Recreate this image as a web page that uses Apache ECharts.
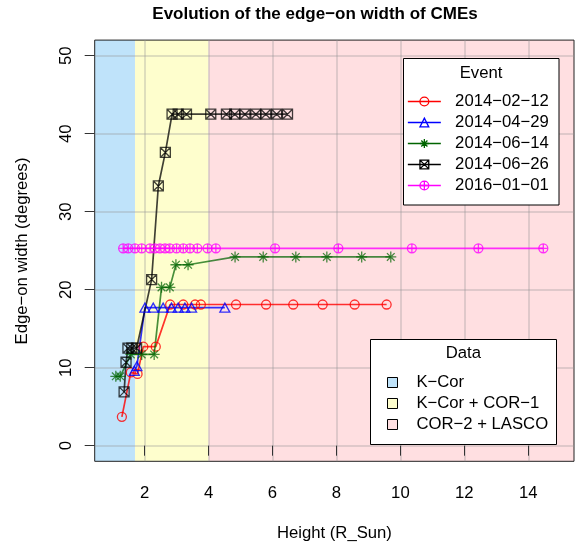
<!DOCTYPE html>
<html>
<head>
<meta charset="utf-8">
<script src="https://cdn.jsdelivr.net/npm/echarts@6/dist/echarts.min.js"></script>
<style>
html, body { margin: 0; padding: 0; background: #fff; }
#main { width: 580px; height: 547px; }
</style>
</head>
<body>
<div id="main"></div>
<script>
const FONT = '"Liberation Sans", Arial, sans-serif';
const FS = 16.7;

// events (legend order)
const eventNames = ['2014−02−12', '2014−04−29', '2014−06−14', '2014−06−26', '2016−01−01'];

// height (R_Sun) / edge-on width (deg) per event
const h140212 = [1.29, 1.57, 1.78, 1.96, 2.35, 2.80, 3.21, 3.58, 3.76, 4.86, 5.80, 6.65, 7.57, 8.57, 9.57];
const w140212 = [3.7, 9.4, 9.2, 12.7, 12.7, 18.1, 18.1, 18.1, 18.1, 18.1, 18.1, 18.1, 18.1, 18.1, 18.1];

const h140429 = [1.68, 1.76, 2.01, 2.27, 2.58, 2.84, 3.05, 3.26, 3.47, 4.51];
const w140429 = [9.6, 10.2, 17.7, 17.7, 17.7, 17.7, 17.7, 17.7, 17.7, 17.7];

const h140614 = [1.10, 1.24, 1.57, 1.91, 2.30, 2.53, 2.79, 2.98, 3.36, 4.83, 5.71, 6.73, 7.70, 8.79, 9.70];
const w140614 = [8.9, 8.9, 11.7, 11.7, 11.7, 20.3, 20.3, 23.2, 23.2, 24.2, 24.2, 24.2, 24.2, 24.2, 24.2];

const h140626 = [1.36, 1.42, 1.48, 1.60, 1.75, 2.22, 2.43, 2.65, 2.86, 3.05, 3.31, 4.07, 4.56, 4.82, 5.14, 5.48, 5.79, 6.13, 6.47];
const w140626 = [6.9, 10.7, 12.5, 12.5, 12.5, 21.3, 33.3, 37.6, 42.5, 42.5, 42.5, 42.5, 42.5, 42.5, 42.5, 42.5, 42.5, 42.5, 42.5];

const h160101 = [1.33, 1.49, 1.70, 1.91, 2.17, 2.32, 2.48, 2.64, 2.79, 3.00, 3.21, 3.42, 3.65, 3.97, 4.23, 6.08, 8.06, 10.36, 12.44, 14.47];
const w160101 = [25.3, 25.3, 25.3, 25.3, 25.3, 25.3, 25.3, 25.3, 25.3, 25.3, 25.3, 25.3, 25.3, 25.3, 25.3, 25.3, 25.3, 25.3, 25.3, 25.3];

// instrument coverage bands
const bandNames = ['K−Cor', 'K−Cor + COR−1', 'COR−2 + LASCO'];
const bandEdges = [0.44, 1.7, 4.0, 15.43];

const xTicks = [2, 4, 6, 8, 10, 12, 14];
const yTicks = [0, 10, 20, 30, 40, 50];

const xLim = [0.44, 15.43];
const yLim = [-2, 52];

const eventColors = ['#ff0000', '#0000ff', '#006400', '#000000', '#ff00ff'];
const lineColors = ['rgba(255,0,0,0.8)', 'rgba(0,0,255,0.8)', 'rgba(0,100,0,0.72)', 'rgba(0,0,0,0.75)', 'rgba(255,0,255,0.8)'];
const bandColors = ['#bfe3fa', '#fefecd', '#ffdfe1'];

const SYM = [
  'path://M10,5A5,5 0 1 1 0,5A5,5 0 1 1 10,5Z',
  'path://M5,0L10,9L0,9Z',
  'path://M0,5L10,5M5,0L5,10M1.5,1.5L8.5,8.5M8.5,1.5L1.5,8.5',
  'path://M0,0L10,0L10,10L0,10ZM0,0L10,10M10,0L0,10',
  'path://M10,5A5,5 0 1 1 0,5A5,5 0 1 1 10,5ZM0,5L10,5M5,0L5,10'
];
const symSize = [9, [10, 9], 11, 10, 9];

const heights = [h140212, h140429, h140614, h140626, h160101];
const widths = [w140212, w140429, w140614, w140626, w160101];

const chart = echarts.init(document.getElementById('main'), null, { renderer: 'canvas' });

const bandSeries = bandNames.map((name, i) => ({
  name: name,
  type: 'line',
  data: [],
  z: -1,
  itemStyle: { color: bandColors[i] },
  markArea: {
    silent: true,
    z: -1,
    itemStyle: { color: bandColors[i], opacity: 1 },
    data: [[{ xAxis: bandEdges[i] }, { xAxis: bandEdges[i + 1] }]]
  }
}));

const eventSeries = eventNames.map((name, i) => ({
  name: name,
  type: 'line',
  data: heights[i].map((h, k) => [h, widths[i][k]]),
  symbol: SYM[i],
  symbolSize: symSize[i],
  showSymbol: true,
  lineStyle: { color: lineColors[i], width: 1.7 },
  itemStyle: { color: 'rgba(0,0,0,0)', borderColor: lineColors[i], borderWidth: 1.3 },
  emphasis: { disabled: true },
  z: 2
}));

const axisText = { fontFamily: FONT, fontSize: FS, color: '#000' };
const gridLine = { show: true, lineStyle: { color: 'rgba(150,150,150,0.3)', width: 2 } };

chart.setOption({
  animation: false,
  grid: { left: 94.7, right: 6, top: 40.1, bottom: 85.7, show: true, borderColor: '#222', borderWidth: 1, backgroundColor: 'transparent' },
  xAxis: {
    type: 'value', min: xLim[0], max: xLim[1], splitNumber: 7,
    axisLine: { show: false },
    axisTick: { show: true, length: 10, lineStyle: { color: '#333' }, customValues: xTicks },
    axisLabel: Object.assign({ customValues: xTicks, margin: 24 }, axisText),
    splitLine: gridLine
  },
  yAxis: {
    type: 'value', min: yLim[0], max: yLim[1], splitNumber: 5,
    axisLine: { show: false },
    axisTick: { show: true, length: 10, lineStyle: { color: '#333' }, customValues: yTicks },
    axisLabel: Object.assign({ customValues: yTicks, margin: 20, rotate: 90 }, axisText),
    splitLine: gridLine
  },
  legend: [
    {
      orient: 'vertical', left: 407, top: 93, padding: 0,
      itemWidth: 33, itemHeight: 11, itemGap: 4, selectedMode: false, z: 6,
      textStyle: { fontFamily: FONT, fontSize: FS, color: '#000', lineHeight: 16 },
      formatter: n => '  ' + n,
      data: eventNames.map((n, i) => ({
        name: n,
        itemStyle: { color: 'rgba(0,0,0,0)', borderColor: eventColors[i], borderWidth: 1.3 },
        lineStyle: { color: eventColors[i], width: 1.7 }
      }))
    },
    {
      orient: 'vertical', left: 387, top: 374, padding: 0,
      itemWidth: 10, itemHeight: 10, itemGap: 4, selectedMode: false, z: 6,
      textStyle: { fontFamily: FONT, fontSize: FS, color: '#000', lineHeight: 16 },
      formatter: n => '   ' + n,
      data: bandNames.map((n, i) => ({
        name: n, icon: 'rect',
        itemStyle: { color: bandColors[i], borderColor: '#000', borderWidth: 1 }
      }))
    }
  ],
  graphic: [
    { type: 'rect', z: 3, shape: { x: 403.5, y: 58.5, width: 155.5, height: 146.5 }, style: { fill: '#fff', stroke: '#000', lineWidth: 1 } },
    { type: 'text', z: 7, x: 481, y: 73, style: { text: 'Event', font: FS + 'px ' + FONT, fill: '#000', align: 'center', verticalAlign: 'middle' } },
    { type: 'rect', z: 3, shape: { x: 370.5, y: 339.5, width: 186, height: 105 }, style: { fill: '#fff', stroke: '#000', lineWidth: 1 } },
    { type: 'text', z: 7, x: 463.3, y: 353.3, style: { text: 'Data', font: FS + 'px ' + FONT, fill: '#000', align: 'center', verticalAlign: 'middle' } },
    { type: 'text', z: 7, x: 315, y: 14, style: { text: 'Evolution of the edge−on width of CMEs', font: 'bold 17px ' + FONT, fill: '#000', align: 'center', verticalAlign: 'middle' } },
    { type: 'text', z: 7, x: 334.4, y: 533, style: { text: 'Height (R_Sun)', font: FS + 'px ' + FONT, fill: '#000', align: 'center', verticalAlign: 'middle' } },
    { type: 'text', z: 7, x: 22, y: 251, rotation: Math.PI / 2, style: { text: 'Edge−on width (degrees)', font: FS + 'px ' + FONT, fill: '#000', align: 'center', verticalAlign: 'middle' } }
  ],
  series: bandSeries.concat(eventSeries)
});
</script>
</body>
</html>
